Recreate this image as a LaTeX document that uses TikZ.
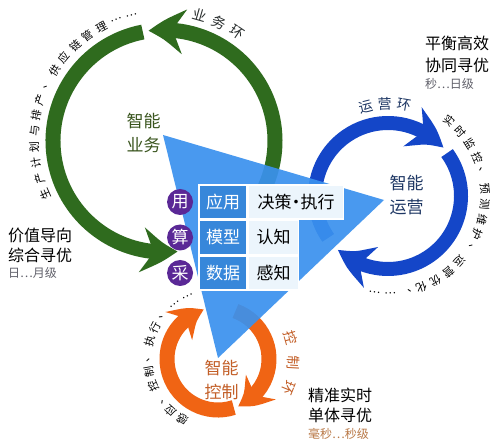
\documentclass[tikz,border=0pt]{standalone}
\usepackage{fontspec}
\newfontfamily\cjk{Noto Sans CJK SC}
\usetikzlibrary{arrows.meta,bending,positioning}

\definecolor{loopgreen}{RGB}{47,107,30}
\definecolor{loopblue}{RGB}{20,70,200}
\definecolor{looporange}{RGB}{240,100,20}
\definecolor{triblue}{RGB}{58,145,238}
\definecolor{cellblue}{RGB}{55,135,218}
\definecolor{cellwhite}{RGB}{236,245,252}
\definecolor{dotpurple}{RGB}{90,40,150}
\definecolor{txtgreen}{RGB}{58,85,30}
\definecolor{txtblue}{RGB}{30,55,100}
\definecolor{txtorange}{RGB}{195,95,40}
\definecolor{txtgray}{RGB}{95,95,105}
\definecolor{txtbrown}{RGB}{185,120,70}
\definecolor{txtdark}{RGB}{40,45,45}

\tikzset{
  gloop/.style={line width=15pt, loopgreen, -{Stealth[length=36pt,width=44pt,inset=12pt,bend]}},
  bloop/.style={line width=14pt, loopblue, -{Stealth[length=38pt,width=42pt,inset=12pt,bend]}},
  oloop/.style={line width=15pt, looporange, -{Stealth[length=30pt,width=38pt,inset=10pt,bend]}},
  ringlbl/.style={inner sep=0pt, font=\cjk\fontsize{11}{12}\selectfont},
  ringname/.style={inner sep=0pt, font=\cjk\fontsize{14}{14}\selectfont},
  hub/.style={align=center, font=\cjk\fontsize{17}{24}\selectfont},
  side/.style={anchor=west, inner sep=0pt, font=\cjk\fontsize{16}{16}\selectfont},
  small/.style={anchor=west, inner sep=0pt, font=\cjk\fontsize{12}{12}\selectfont},
  cellb/.style={fill=cellblue, draw=white, line width=1.5pt, minimum width=48pt,
    minimum height=34pt, inner sep=0pt, text=white, font=\cjk\fontsize{17}{17}\selectfont},
  cellw/.style={cellb, fill=cellwhite, text=black, minimum width=50pt},
  purp/.style={circle, fill=dotpurple, minimum size=26pt, inner sep=0pt,
    text=white, font=\cjk\fontsize{17}{17}\selectfont}
}

\begin{document}
\begin{tikzpicture}[x=1pt,y=1pt]
\fill[white] (0,0) rectangle (500,444);

\coordinate (gc) at (164,303);
\coordinate (bc) at (388,248);
\coordinate (oc) at (218,85);

% loops
\draw[gloop] ([shift={(-50:111)}]gc) arc[start angle=-50, end angle=98, radius=111];
\draw[gloop] ([shift={(101:111)}]gc) arc[start angle=101, end angle=277, radius=111];
\draw[bloop] ([shift={(215:73)}]bc) arc[start angle=215, end angle=41, radius=73];
\draw[bloop] ([shift={(36:73)}]bc) arc[start angle=36, end angle=-133, radius=73];
\draw[oloop] ([shift={(70:51)}]oc) arc[start angle=70, end angle=-67, radius=51];
\draw[oloop] ([shift={(-72:51)}]oc) arc[start angle=-72, end angle=-254, radius=51];

% triangle
\fill[triblue, fill opacity=.92] (163,309) -- (384,244) -- (218,86) -- cycle;

% table
\node[cellb] (app) at (223,242) {应用};
\node[cellw, minimum width=95pt, right=0pt of app] (dec) {决策\hspace{-4pt}·\hspace{-4pt}执行};
\node[cellb, below=0pt of app] (mod) {模型};
\node[cellw, right=0pt of mod] (cog) {认知};
\node[cellb, below=0pt of mod] (dat) {数据};
\node[cellw, right=0pt of dat] (per) {感知};

\node[purp, left=5pt of app] (yong) {用};
\node[purp, left=5pt of mod] (suan) {算};
\node[purp, left=5pt of dat] (cai) {采};

% hub labels
\node[hub, text=txtgreen] (gh) at (143.5,311) {智能\\业务};
\node[hub, text=txtblue] (bh) at (406.5,249) {智能\\运营};
\node[hub, text=txtorange] (oh) at (221.5,64) {智能\\控制};

% side notes
\node[side] (lv1) at (8,209) {价值导向};
\node[side] (lv2) at (8,189) {综合寻优};
\node[small, text=txtgray] (lv3) at (8,171) {日…月级};
\node[side] (rv1) at (425,401) {平衡高效};
\node[side] (rv2) at (425,379) {协同寻优};
\node[small, text=txtgray] (rv3) at (425,360) {秒…日级};
\node[side] (dv1) at (308,49) {精准实时};
\node[side] (dv2) at (308,29) {单体寻优};
\node[small, text=txtbrown] (dv3) at (308,10) {毫秒…秒级};

% ring labels
\foreach \ch [count=\i, evaluate=\i as \a using 74-(\i-1)*9] in {业,务,环}
  \node[ringname, text=txtdark, rotate=\a-90] (gt\i) at ([shift={(\a:131)}]gc) {\ch};
\foreach \ch [count=\i, evaluate=\i as \a using 204-(\i-1)*7.1] in {生,产,计,划,与,排,产,、,供,应,链,管,理,…,…}
  \node[ringlbl, rotate=\a-90] (gl\i) at ([shift={(\a:130)}]gc) {\ch};
\foreach \ch [count=\i, evaluate=\i as \a using 104-(\i-1)*12] in {运,营,环}
  \node[ringname, text=txtblue, rotate=\a-90] (bt\i) at ([shift={(\a:92)}]bc) {\ch};
\foreach \ch [count=\i, evaluate=\i as \a using 51-(\i-1)*9.3] in {实,时,监,控,、,预,测,维,护,、,运,营,优,化,、,…,…}
  \node[ringlbl, rotate=\a-90] (bl\i) at ([shift={(\a:97)}]bc) {\ch};
\foreach \ch [count=\i, evaluate=\i as \a using 16-(\i-1)*19] in {控,制,环}
  \node[ringname, text=txtorange, rotate=\a-90] (ot\i) at ([shift={(\a:76)}]oc) {\ch};
\foreach \ch [count=\i, evaluate=\i as \a using 240-(\i-1)*12.4] in {感,应,、,控,制,、,执,行,、,…,…}
  \node[ringlbl, rotate=\a-90] (ol\i) at ([shift={(\a:70)}]oc) {\ch};

\end{tikzpicture}
\end{document}
